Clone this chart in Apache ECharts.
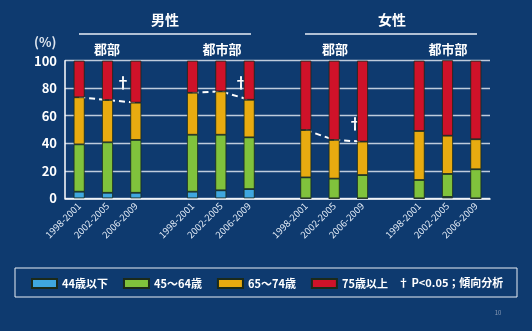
<!DOCTYPE html>
<html>
<head>
<meta charset="utf-8">
<script src="https://cdn.jsdelivr.net/npm/echarts@6/dist/echarts.min.js"></script>
<style>
html,body{margin:0;padding:0;background:#0e3a6f;}
#c{width:532px;height:331px;}
</style>
</head>
<body>
<div id="c"></div>
<script>
// Categories (blank slots separate the four groups)
var categories = ['1998-2001','2002-2005','2006-2009','',
                  '1998-2001','2002-2005','2006-2009','',
                  '1998-2001','2002-2005','2006-2009','',
                  '1998-2001','2002-2005','2006-2009'];
var seriesNames = ['44歳以下','45～64歳','65～74歳','75歳以上'];
// Segment values (%) per bar; null = gap slot
var age44 = [4.8, 4.0, 4.0, null, 4.8, 5.8, 6.7, null, 0, 0, 0, null, 0, 1.0, 0];
var age45_64 = [34.4, 36.7, 38.4, null, 41.4, 40.4, 37.6, null, 15.2, 14.3, 16.9, null, 13.3, 16.7, 21.1];
var age65_74 = [34.2, 30.7, 27.1, null, 30.5, 31.5, 27.3, null, 34.4, 28.1, 24.3, null, 35.6, 27.8, 21.8];
var age75 = [26.6, 28.6, 30.5, null, 23.3, 22.3, 28.4, null, 50.4, 57.6, 58.8, null, 51.1, 55.5, 57.1];
// Groups with a significant trend (dashed line over the 65-74 top)
var trendGroups = [[0,1,2],[4,5,6],[8,9,10]];
var yTicks = [0,20,40,60,80,100];

var colors = ['#3fa7df','#80c23c','#e8ab10','#cf1229'];
var chart = echarts.init(document.getElementById('c'));
var font = '"Noto Sans CJK JP", "Noto Sans", sans-serif';

var segs = [age44, age45_64, age65_74, age75];
var series = segs.map(function(d, i){
  return {
    name: seriesNames[i], type: 'bar', stack: 'a', data: d, barWidth: 11, z: 3,
    itemStyle: {color: colors[i], borderColor: '#1b2a1a', borderWidth: 0.8}
  };
});
trendGroups.forEach(function(g){
  var d = categories.map(function(){ return null; });
  g.forEach(function(k){ d[k] = +(age44[k] + age45_64[k] + age65_74[k]).toFixed(1); });
  series.push({
    type: 'line', data: d, z: 1, symbol: 'none', silent: true,
    lineStyle: {color: '#ffffff', width: 2, type: [6,4]}
  });
});

var txt = function(t, x, y, size, align, color){
  return {type:'text', x: x, y: y,
    style:{text: t, fill: color || '#ffffff', font: 'bold ' + size + 'px ' + font,
           textAlign: align || 'center', textVerticalAlign:'middle'}};
};

chart.setOption({
  backgroundColor: '#0e3a6f',
  animation: false,
  grid: {left: 65, right: 42, top: 60.7, bottom: 132.7},
  xAxis: {
    type: 'category', data: categories,
    axisLine: {lineStyle: {color: '#ffffff', width: 1.5}},
    axisTick: {lineStyle: {color: '#ffffff'}, length: 4},
    axisLabel: {color: '#e6eef8', fontSize: 9.5, rotate: 45, interval: 0, fontFamily: font, margin: 6}
  },
  yAxis: {
    type: 'value', min: yTicks[0], max: yTicks[yTicks.length-1], interval: 20,
    axisLine: {show: true, lineStyle: {color: '#ffffff', width: 1.5}},
    axisTick: {show: false},
    axisLabel: {color: '#ffffff', fontSize: 13, fontWeight: 'bold', fontFamily: font, margin: 8},
    splitLine: {lineStyle: {color: 'rgba(235,240,248,0.8)', width: 1.3}}
  },
  legend: {
    data: seriesNames, left: 31, top: 278, padding: 0, itemWidth: 25, itemHeight: 9, itemGap: 15,
    icon: 'rect',
    textStyle: {color: '#ffffff', fontSize: 11, fontWeight: 'bold', fontFamily: font}
  },
  graphic: [
    {type:'rect', shape:{x:15, y:268, width:502, height:29}, style:{fill:'none', stroke:'#e8eef6', lineWidth:1}},
    txt('† P<0.05；傾向分析', 398, 283, 11, 'left'),
    txt('(%)', 34, 42, 13, 'left', '#dfe6ef'),
    txt('男性', 165, 20, 14), txt('女性', 392, 20, 14),
    {type:'line', shape:{x1:79, y1:34, x2:251, y2:34}, style:{stroke:'#e8eef6', lineWidth:1.5}},
    {type:'line', shape:{x1:305, y1:34, x2:477, y2:34}, style:{stroke:'#e8eef6', lineWidth:1.5}},
    txt('郡部', 107, 49, 13), txt('都市部', 222, 49, 13),
    txt('郡部', 335, 49, 13), txt('都市部', 448, 49, 13),
    txt('†', 123, 82, 15), txt('†', 241, 82, 15), txt('†', 355, 123, 15),
    {type:'text', x: 498, y: 313, style:{text:'10', fill:'#8a9bb5', font:'6px ' + font, textAlign:'center', textVerticalAlign:'middle'}}
  ],
  series: series
});
</script>
</body>
</html>
